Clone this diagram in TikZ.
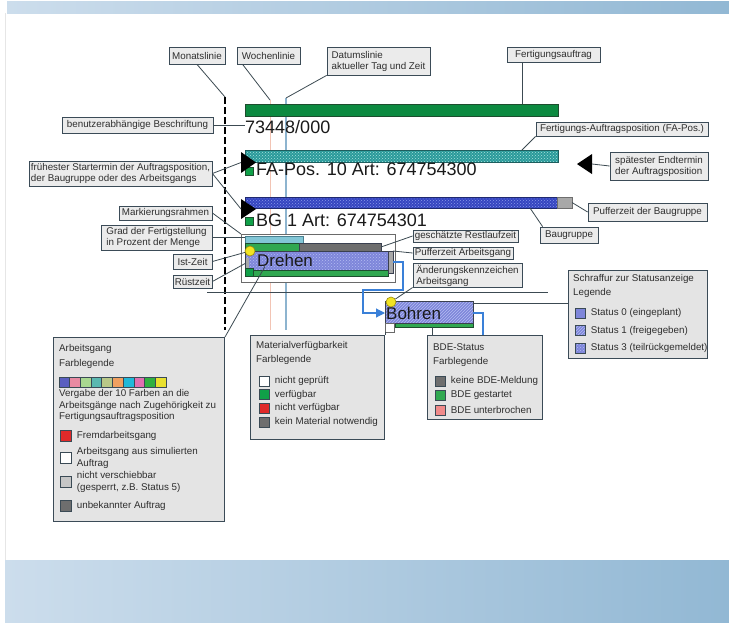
\documentclass[tikz,border=0pt]{standalone}
\usepackage{fontspec}
\setmainfont{Liberation Sans}
\usepackage{xcolor}
\usepackage{tikz}
\usetikzlibrary{positioning,patterns,arrows.meta}

\definecolor{boxline}{HTML}{3B4B57}
\definecolor{boxfill}{HTML}{EBEBEB}
\definecolor{legfill}{HTML}{E4E4E4}
\definecolor{txt}{HTML}{2E2E2E}
\definecolor{bigtxt}{HTML}{1A1A1A}
\definecolor{conline}{HTML}{3C4A52}
\definecolor{flowblue}{HTML}{3A80D8}
\definecolor{datblue}{HTML}{8DB4CF}
\definecolor{wochred}{HTML}{F2C4B4}
\definecolor{fagreen}{HTML}{0C8A40}
\definecolor{fagreenline}{HTML}{1D4D2E}
\definecolor{tealbar}{HTML}{2A9A9A}
\definecolor{tealdot}{HTML}{A8E0DC}
\definecolor{tealline}{HTML}{1E5E5E}
\definecolor{bgblue}{HTML}{3545C0}
\definecolor{bgdot}{HTML}{8898EA}
\definecolor{bgline}{HTML}{202A70}
\definecolor{lav}{HTML}{7E86DA}
\definecolor{lavdot}{HTML}{B4BCF2}
\definecolor{okgreen}{HTML}{30A850}
\definecolor{sqgreen}{HTML}{10A048}
\definecolor{restgrey}{HTML}{6E6E6E}
\definecolor{puffgrey}{HTML}{A8A8A8}
\definecolor{cyanbar}{HTML}{82C6D6}
\definecolor{cyanline}{HTML}{4A8090}
\definecolor{framegrey}{HTML}{6A6A6A}
\definecolor{darkline}{HTML}{3A4050}
\definecolor{ylw}{HTML}{F2E422}
\definecolor{ylwline}{HTML}{9A8A10}
\definecolor{fremdred}{HTML}{E02A2A}
\definecolor{bdepink}{HTML}{F08A8A}
\definecolor{lightgrey}{HTML}{C6C6C6}
\definecolor{swline}{HTML}{3A4A55}
\definecolor{bandL}{HTML}{CCDDEC}
\definecolor{bandR}{HTML}{92B8D4}
\definecolor{faint}{HTML}{E6E6E6}
\definecolor{pal1}{HTML}{5A5FC0}
\definecolor{pal2}{HTML}{E88AA2}
\definecolor{pal3}{HTML}{A8D890}
\definecolor{pal4}{HTML}{5AB8B0}
\definecolor{pal5}{HTML}{B8C888}
\definecolor{pal6}{HTML}{F0A060}
\definecolor{pal7}{HTML}{20B8D8}
\definecolor{pal8}{HTML}{E070B0}
\definecolor{pal9}{HTML}{30B040}
\definecolor{pal10}{HTML}{E8E030}

\newcommand\labelfnt{\fontsize{9.8}{11}\selectfont}
\newcommand\legendfnt{\fontsize{9.8}{11.5}\selectfont}
\newcommand\barfnt{\fontsize{18}{21}\selectfont}
\newcommand\opfnt{\fontsize{17}{20}\selectfont}

\tikzset{
  lbl/.style={draw=boxline, fill=boxfill, line width=0.8pt, inner sep=1pt, text=txt, font=\labelfnt, align=left},
  con/.style={conline, line width=0.8pt},
  flow/.style={flowblue, line width=1.1pt},
  mline/.style={black, line width=1.4pt, dash pattern=on 7pt off 3pt},
  dline/.style={datblue, line width=1.3pt},
  wline/.style={wochred, line width=1pt},
  bar/.style={anchor=north west, inner sep=0pt, outer sep=0pt, line width=0.6pt},
  big/.style={anchor=base west, inner sep=0pt, text=bigtxt, font=\barfnt},
  marker/.style={circle, fill=ylw, draw=ylwline, line width=0.6pt, minimum size=10, inner sep=0pt},
  legbox/.style={anchor=north west, draw=boxline, fill=legfill, line width=1pt, inner sep=0pt},
  legtxt/.style={anchor=west, inner sep=0pt, text=txt, font=\legendfnt, align=left},
  swatch/.style={anchor=west, draw=swline, line width=0.7pt, minimum size=10, inner sep=0pt},
}

\begin{document}
\begin{tikzpicture}[x=1pt, y=-1pt]
    \useasboundingbox (0,0) rectangle (729,622);
    \fill[white] (0,0) rectangle (729,622);
    \shade[left color=bandL, right color=bandR] (7,1) rectangle (729,13);
    \shade[left color=bandL, right color=bandR] (5,560) rectangle (729,622);
    \draw[faint] (5,13) -- (5,560);

    \coordinate (monatop) at (225,97);
    \coordinate (monabot) at (225,330);
    \coordinate (wochtop) at (270,100);
    \coordinate (wochbot) at (270,330);
    \coordinate (dattop) at (286,98);
    \coordinate (datbot) at (286,330);
    \draw[wline] (wochtop) -- (wochbot);
    \draw[dline] (dattop) -- (datbot);
    \draw[mline] (monatop) -- (monabot);

    \node[bar, fill=fagreen, draw=fagreenline, minimum width=313, minimum height=12] (auftrag) at (245,104) {};
    \node[big] (auftragtxt) at (245,133) {73448/000};
    \node[bar, preaction={fill=tealbar}, pattern=crosshatch dots, pattern color=tealdot, draw=tealline, minimum width=313, minimum height=12] (fapos) at (245,150) {};
    \node[bar, fill=sqgreen, draw=fagreenline, minimum size=8] (fasq) at (245,167) {};
    \node[big] (fapostxt) at (256,175) {FA-Pos. 10 Art: 674754300};
    \node[bar, preaction={fill=bgblue}, pattern=crosshatch dots, pattern color=bgdot, draw=bgline, minimum width=312, minimum height=11] (bgbar) at (245,197) {};
    \node[bar, fill=puffgrey, draw=restgrey, minimum width=15, minimum height=11] (bgpuff) at (557,197) {};
    \node[bar, fill=sqgreen, draw=fagreenline, minimum size=8] (bgsq) at (245,217) {};
    \node[big] (bgtxt) at (256,226) {BG 1 Art: 674754301};

    \fill[black] (241,152) -- (256,162.5) -- (241,173) -- cycle;
    \fill[black] (241,199) -- (256,209) -- (241,219) -- cycle;
    \fill[black] (592,154) -- (577,164) -- (592,174) -- cycle;
    \coordinate (tri1) at (241,162.5);
    \coordinate (tri2) at (241,209);
    \coordinate (tri3) at (592,164);

    \node[bar, fill=white, draw=framegrey, line width=1pt, minimum width=154, minimum height=48] (rahmen) at (241,234) {};
    \node[bar, fill=cyanbar, draw=cyanline, minimum width=58, minimum height=7] (gradbar) at (245,236) {};
    \node[bar, fill=okgreen, draw=fagreenline, minimum width=54, minimum height=8] (istbar) at (245,243) {};
    \node[bar, fill=restgrey, draw=darkline, minimum width=82, minimum height=8] (restbar) at (299,243) {};
    \node[bar, preaction={fill=lav}, pattern=crosshatch dots, pattern color=lavdot, draw=darkline, minimum width=143, minimum height=19] (dreh) at (245,251) {};
    \node[bar, fill=okgreen, draw=fagreenline, minimum width=143, minimum height=6] (drehgruen) at (245,270) {};
    \node[bar, fill=puffgrey, draw=darkline, minimum width=5, minimum height=22] (drehpuff) at (388,251) {};
    \node[bar, fill=puffgrey, minimum width=3, minimum height=10] (ruestbar) at (246,258) {};
    \node[bar, fill=sqgreen, draw=fagreenline, minimum size=8] (ruestsq) at (245,268) {};
    \node[marker] (drehist) at (250,251) {};
    \node[big, font=\opfnt] (drehtxt) at (257,266) {Drehen};

    \node[bar, fill=okgreen, draw=fagreenline, minimum width=78, minimum height=5] (bohrgruen) at (395,322) {};
    \node[bar, preaction={fill=lav}, pattern=north east lines, pattern color=lavdot, draw=darkline, line width=0.8pt, minimum width=88, minimum height=22] (bohr) at (385,301) {};
    \node[bar, fill=white, draw=framegrey, minimum size=9] (bohrmat) at (385,323) {};
    \node[marker] (bohrist) at (391,302) {};
    \node[big, font=\opfnt] (bohrtxt) at (386,319) {Bohren};

    \node[lbl, minimum width=56, minimum height=17] (mona) at (197,55.5) {Monatslinie};
    \node[lbl, minimum width=63, minimum height=17] (woche) at (268.5,55.5) {Wochenlinie};
    \node[lbl, minimum width=103, minimum height=28] (datum) at (378.5,61) {Datumslinie\\aktueller Tag und Zeit};
    \node[lbl, minimum width=93, minimum height=15] (fauftrag) at (553.5,54.5) {Fertigungsauftrag};
    \node[lbl, minimum width=151, minimum height=16] (beschr) at (137.5,125) {benutzerabhängige Beschriftung};
    \node[lbl, minimum width=172, minimum height=14] (faposlbl) at (622,129) {Fertigungs-Auftragsposition (FA-Pos.)};
    \node[lbl, minimum width=183, minimum height=25] (frueh) at (120.5,173.5) {frühester Startermin der Auftragsposition,\\der Baugruppe oder des Arbeitsgangs};
    \node[lbl, minimum width=98, minimum height=28] (spaet) at (659,166) {spätester Endtermin\\der Auftragsposition};
    \node[lbl, minimum width=119, minimum height=18] (puffbg) at (647.5,212) {Pufferzeit der Baugruppe};
    \node[lbl, minimum width=58, minimum height=16] (baugr) at (569,235) {Baugruppe};
    \node[lbl, minimum width=93, minimum height=14] (markier) at (165.5,213) {Markierungsrahmen};
    \node[lbl, minimum width=111, minimum height=25] (grad) at (156.5,237.5) {Grad der Fertigstellung\\in Prozent der Menge};
    \node[lbl, minimum width=39, minimum height=15] (ist) at (192.5,261.5) {Ist-Zeit};
    \node[lbl, minimum width=39, minimum height=13] (ruest) at (192.5,281.5) {Rüstzeit};
    \node[lbl, minimum width=105, minimum height=12] (rest) at (465.5,236) {geschätzte Restlaufzeit};
    \node[lbl, minimum width=100, minimum height=12] (puffag) at (463,253) {Pufferzeit Arbeitsgang};
    \node[lbl, minimum width=109, minimum height=23] (aender) at (467.5,275.5) {Änderungskennzeichen\\Arbeitsgang};

    \node[legbox, minimum width=171, minimum height=184] (agleg) at (53,337) {};
    \node[legtxt] (agtit) at (59,349) {Arbeitsgang};
    \node[legtxt] (agsub) at (59,364) {Farblegende};
    \draw[swline, line width=0.7pt, fill=pal1] (59,377) rectangle (69.7,387);
    \draw[swline, line width=0.7pt, fill=pal2] (69.7,377) rectangle (80.4,387);
    \draw[swline, line width=0.7pt, fill=pal3] (80.4,377) rectangle (91.1,387);
    \draw[swline, line width=0.7pt, fill=pal4] (91.1,377) rectangle (101.8,387);
    \draw[swline, line width=0.7pt, fill=pal5] (101.8,377) rectangle (112.5,387);
    \draw[swline, line width=0.7pt, fill=pal6] (112.5,377) rectangle (123.2,387);
    \draw[swline, line width=0.7pt, fill=pal7] (123.2,377) rectangle (133.9,387);
    \draw[swline, line width=0.7pt, fill=pal8] (133.9,377) rectangle (144.6,387);
    \draw[swline, line width=0.7pt, fill=pal9] (144.6,377) rectangle (155.3,387);
    \draw[swline, line width=0.7pt, fill=pal10] (155.3,377) rectangle (166,387);
    \node[legtxt] (agtext) at (59,405.5) {Vergabe der 10 Farben an die\\Arbeitsgänge nach Zugehörigkeit zu\\Fertigungsauftragsposition};
    \node[swatch, fill=fremdred, minimum size=11] (agsw1) at (60,435.5) {};
    \node[legtxt, right=5pt of agsw1] {Fremdarbeitsgang};
    \node[swatch, fill=white, minimum size=11] (agsw2) at (60,458) {};
    \node[legtxt, right=5pt of agsw2] {Arbeitsgang aus simulierten\\Auftrag};
    \node[swatch, fill=lightgrey, minimum size=11] (agsw3) at (60,482) {};
    \node[legtxt, right=5pt of agsw3] {nicht verschiebbar\\(gesperrt, z.B. Status 5)};
    \node[swatch, fill=restgrey, minimum size=11] (agsw4) at (60,506) {};
    \node[legtxt, right=5pt of agsw4] {unbekannter Auftrag};

    \node[legbox, minimum width=134, minimum height=104] (matleg) at (250,335) {};
    \node[legtxt] (mattit) at (256,346) {Materialverfügbarkeit};
    \node[legtxt] (matsub) at (256,360) {Farblegende};
    \node[swatch, fill=white] (matsw1) at (259,381) {};
    \node[legtxt, right=5pt of matsw1] {nicht geprüft};
    \node[swatch, fill=sqgreen] (matsw2) at (259,394.5) {};
    \node[legtxt, right=5pt of matsw2] {verfügbar};
    \node[swatch, fill=fremdred] (matsw3) at (259,408) {};
    \node[legtxt, right=5pt of matsw3] {nicht verfügbar};
    \node[swatch, fill=restgrey] (matsw4) at (259,422) {};
    \node[legtxt, right=5pt of matsw4] {kein Material notwendig};

    \node[legbox, minimum width=115, minimum height=84] (bdeleg) at (427,335) {};
    \node[legtxt] (bdetit) at (433,347) {BDE-Status};
    \node[legtxt] (bdesub) at (433,362) {Farblegende};
    \node[swatch, fill=restgrey] (bdesw1) at (435,381) {};
    \node[legtxt, right=5pt of bdesw1] {keine BDE-Meldung};
    \node[swatch, fill=okgreen] (bdesw2) at (435,395.5) {};
    \node[legtxt, right=5pt of bdesw2] {BDE gestartet};
    \node[swatch, fill=bdepink] (bdesw3) at (435,410) {};
    \node[legtxt, right=5pt of bdesw3] {BDE unterbrochen};

    \node[legbox, minimum width=139, minimum height=88] (statleg) at (568,270) {};
    \node[legtxt] (stattit) at (573,278.5) {Schraffur zur Statusanzeige};
    \node[legtxt] (statsub) at (573,293) {Legende};
    \node[swatch, fill=lav] (statsw1) at (575,313) {};
    \node[legtxt, right=5pt of statsw1] {Status 0 (eingeplant)};
    \node[swatch, preaction={fill=lav}, pattern=north east lines, pattern color=lavdot] (statsw2) at (575,330.5) {};
    \node[legtxt, right=5pt of statsw2] {Status 1 (freigegeben)};
    \node[swatch, preaction={fill=lav}, pattern=crosshatch dots, pattern color=lavdot] (statsw3) at (575,348) {};
    \node[legtxt, right=5pt of statsw3] {Status 3 (teilrückgemeldet)};

    \draw[con] (mona.south) -- (monatop);
    \draw[con] ([xshift=6pt]woche.south west) -- (wochtop);
    \draw[con] (datum.south west) -- (dattop);
    \draw[con] ([xshift=16pt]fauftrag.south west) coordinate (fa1) -- (fa1 |- auftrag.north);
    \draw[con] (beschr.east) -- (beschr.east -| auftragtxt.west);
    \draw[con] (faposlbl.south west) -- ([xshift=277pt]fapos.north west);
    \draw[con] (frueh.east) -- (tri1);
    \draw[con] (frueh.east) -- (tri2);
    \draw[con] (tri3) -- (spaet.west);
    \draw[con] (bgpuff.east) -- (puffbg.west);
    \draw[con] ([xshift=285pt]bgbar.south west) -- ([xshift=3pt]baugr.north west);
    \draw[con] (markier.east) -- (rahmen.north west);
    \draw[con] (grad.east) -- (grad.east -| gradbar.west);
    \draw[con] (ist.east) -- (drehist);
    \draw[con] (ruest.east) -- (ruestbar.west);
    \draw[con] ([xshift=8pt]drehtxt.south west) -- (agleg.north east);
    \draw[con] (restbar.east) -- (rest.west);
    \draw[con] (drehpuff.north east) -- (puffag.west);
    \draw[con] (aender.south west) -- (bohrist);

    \coordinate (sepl) at (207,292);
    \coordinate (sepr) at (548,292);
    \draw[con] (sepl) -- (sepr);

    \coordinate (fl1) at (403,290);
    \coordinate (fl2) at (363,313);
    \draw[flow, -{Triangle[length=9pt, width=9pt]}] (drehpuff.east) -| (fl1) -| (fl2) -- (fl2 -| bohr.west);

    \draw[con] ([yshift=-2pt]bohr.north east) -- ([yshift=-2pt]bohr.north east -| statleg.west);
    \draw[con] (bohrmat.south west) -- (matleg.north east);
    \draw[con] ([xshift=37pt]bohrgruen.south west) coordinate (bg1) -- (bg1 |- bdeleg.north);
    \coordinate (fl3) at (483,335);
    \draw[flow] ([yshift=-12pt]bohr.north east) -| (fl3);
\end{tikzpicture}
\end{document}
